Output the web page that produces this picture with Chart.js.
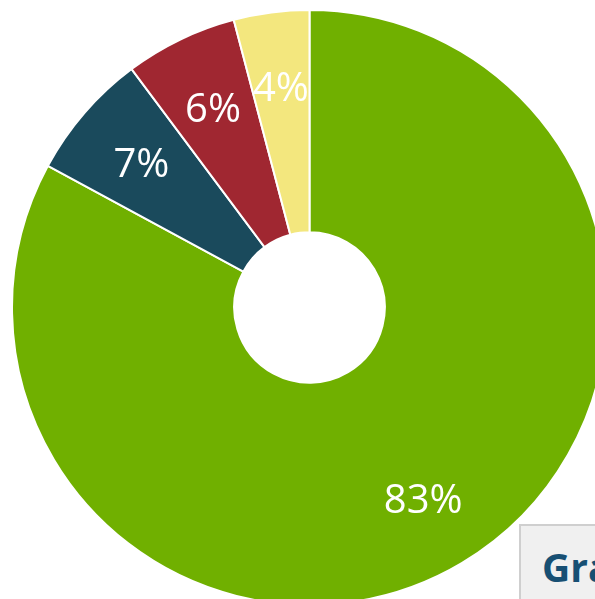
<!DOCTYPE html>
<html>
<head>
<meta charset="utf-8">
<script src="https://cdn.jsdelivr.net/npm/chart.js@4/dist/chart.umd.min.js"></script>
<style>
  html, body { margin: 0; padding: 0; width: 595px; height: 599px; overflow: hidden; background: #fff; }
  #wrap { position: absolute; left: 11px; top: 9px; width: 597px; height: 597px; }
  #box {
    position: absolute; left: 519px; top: 524px; width: 200px; height: 120px;
    background: #f0f0f0; border: 2px solid #cfcfcf; box-sizing: border-box;
    font-family: "Open Sans", sans-serif; font-weight: bold; font-size: 39px;
    color: #174f73; padding: 14px 0 0 21px; white-space: nowrap;
  }
</style>
</head>
<body>
<div id="wrap"><canvas id="myDoughnut"></canvas></div>
<div id="box">Gra</div>
<script>
// valori
const categories = ['A', 'B', 'C', 'D'];
const values = [82.9, 6.9, 6.1, 4.1];
const colors = ['#70b000', '#1a4a5c', '#a02731', '#f3e77e'];

// etichette percentuali dentro le fette
const pctLabels = {
    id: 'pctLabels',
    afterDatasetsDraw(chart) {
        const ctx = chart.ctx;
        const meta = chart.getDatasetMeta(0);
        const total = values.reduce((a, b) => a + b, 0);
        ctx.save();
        ctx.font = '40px "Open Sans", sans-serif';
        ctx.fillStyle = '#ffffff';
        ctx.textAlign = 'center';
        ctx.textBaseline = 'middle';
        meta.data.forEach((arc, i) => {
            const p = arc.getProps(['x', 'y', 'startAngle', 'endAngle', 'outerRadius'], true);
            const mid = (p.startAngle + p.endAngle) / 2;
            const r = p.outerRadius * 0.747;
            const txt = Math.round(values[i] / total * 100) + '%';
            ctx.fillText(txt, p.x + Math.cos(mid) * r, p.y + Math.sin(mid) * r + 3);
        });
        ctx.restore();
    }
};

let doughnutChart = new Chart(document.getElementById('myDoughnut').getContext('2d'), {
    type: 'doughnut',
    data: {
        labels: categories,
        datasets: [{
            data: values,
            backgroundColor: colors,
            borderColor: '#ffffff',
            borderWidth: 2,
        }],
    },
    options: {
        responsive: true,
        maintainAspectRatio: false,
        animation: false,
        cutout: '25.3%',
        layout: { padding: 0 },
        plugins: {
            legend: { display: false },
            tooltip: { enabled: false },
        },
    },
    plugins: [pctLabels],
});
</script>
</body>
</html>
